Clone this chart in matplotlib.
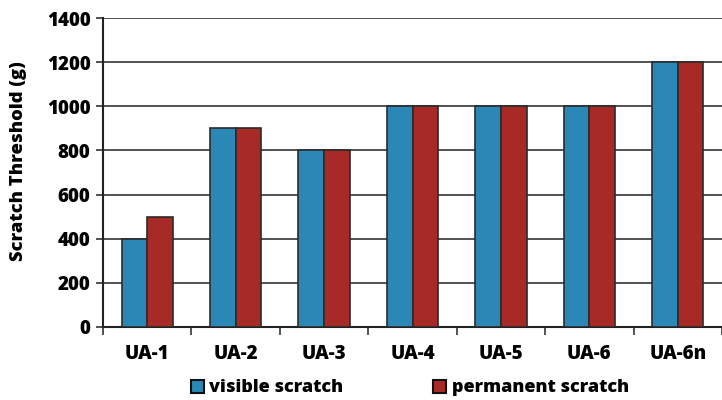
import numpy as np
import matplotlib.pyplot as plt
from matplotlib.patches import Patch

categories = ['UA-1', 'UA-2', 'UA-3', 'UA-4', 'UA-5', 'UA-6', 'UA-6n']
visible = [400, 900, 800, 1000, 1000, 1000, 1200]
permanent = [500, 900, 800, 1000, 1000, 1000, 1200]
yticks = [0, 200, 400, 600, 800, 1000, 1200, 1400]

blue = '#2a87b6'
red = '#a82a26'
edge = '#2b2b2b'

plt.rcParams['font.family'] = ['Open Sans', 'DejaVu Sans']
plt.rcParams['font.weight'] = 'heavy'

fig = plt.figure(figsize=(7.22, 4.0), dpi=100)
ax = fig.add_axes([103 / 722, 73 / 400, 1 - 103 / 722, 309 / 400])

x = np.arange(len(categories))
w = 0.29
ax.bar(x - w / 2, visible, w, color=blue, edgecolor=edge, linewidth=1.2, zorder=3)
ax.bar(x + w / 2, permanent, w, color=red, edgecolor=edge, linewidth=1.2, zorder=3)

ax.set_ylim(0, 1400)
ax.set_yticks(yticks)
ax.set_xlim(-0.5, 6.5 - 4 / 89)
ax.yaxis.grid(True, color='#333333', linewidth=1.2, zorder=0)

# category labels centred, ticks on the group boundaries
ax.set_xticks(x)
ax.set_xticklabels(categories, fontsize=13.5, fontweight='heavy')
ax.set_xticks(np.arange(-0.5, 7, 1), minor=True)
ax.tick_params(axis='x', which='major', length=0, pad=12)
ax.tick_params(axis='x', which='minor', length=6, width=1.2, color='#333333')
ax.tick_params(axis='y', length=5, width=1.2, color='#333333', labelsize=13.5, pad=4)
for lbl in ax.get_yticklabels():
    lbl.set_fontweight('heavy')

for side in ['top', 'right']:
    ax.spines[side].set_visible(False)
for side in ['left', 'bottom']:
    ax.spines[side].set_linewidth(1.5)
    ax.spines[side].set_color('#222222')

ax.set_ylabel('Scratch Threshold (g)', fontsize=13.2, fontweight='heavy')
ax.yaxis.set_label_coords(-0.122, 0.536)

handles = [Patch(facecolor=blue, edgecolor='#111111', linewidth=1.5),
           Patch(facecolor=red, edgecolor='#111111', linewidth=1.5)]
fig.legend(handles, ['visible scratch', 'permanent scratch'], loc='center left',
           bbox_to_anchor=(191 / 722, 1 - 388 / 400), ncol=2, frameon=False,
           prop={'size': 13, 'weight': 'heavy'}, handlelength=0.7, handleheight=0.7,
           handletextpad=0.3, columnspacing=5.0, borderaxespad=0, borderpad=0)

fig.savefig('out.png', dpi=100)
